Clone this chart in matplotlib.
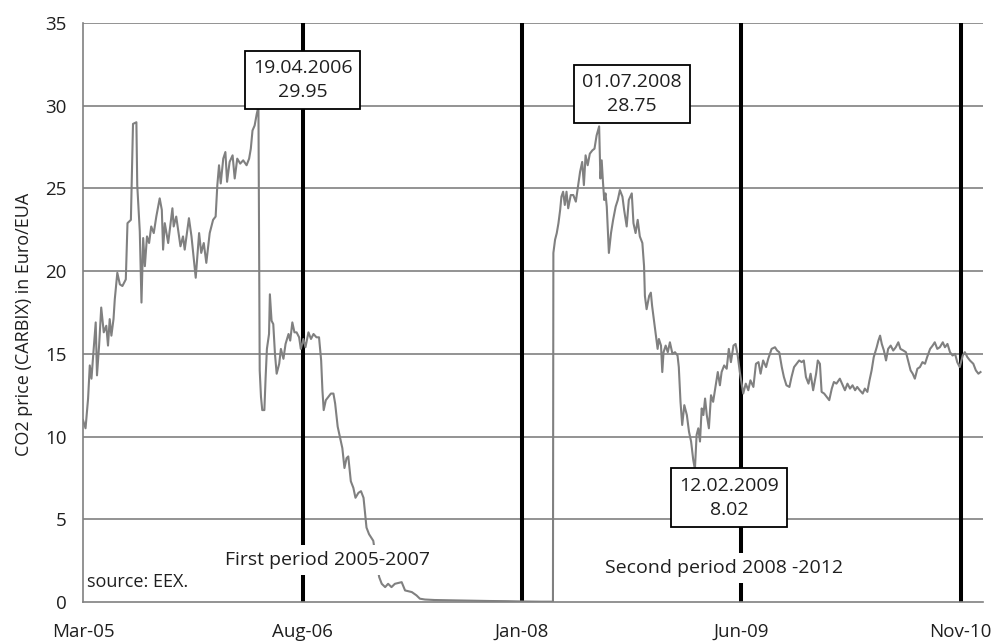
#!/usr/bin/env python3
"""CO2 price (CARBIX) 2005-2010 with trading-period markers."""

import matplotlib
matplotlib.use("Agg")
import matplotlib.pyplot as plt
import matplotlib.dates as mdates
import numpy as np
import pandas as pd

plt.rcParams["font.family"] = ["Open Sans", "DejaVu Sans"]

# ── data ──────────────────────────────────────────────────────────
START = pd.Timestamp("2005-03-01")

# days since START, price in Euro/EUA
phase1_days = [
    0, 6, 12, 16, 20, 24, 30, 33, 38, 43, 49, 55, 59, 63, 67, 72, 75, 81, 87, 93,
    101, 105, 113, 118, 126, 128, 134, 138, 142, 146, 151, 156, 161, 167, 173, 181,
    186, 189, 193, 201, 211, 214, 220, 230, 236, 240, 250, 256, 260, 266, 274, 279,
    285, 291, 299, 307, 313, 317, 321, 325, 331, 336, 340, 346, 353, 358, 364, 371,
    378, 386, 392, 396, 400, 405, 410, 414, 417, 420, 423, 428, 431, 434, 439, 441,
    445, 449, 453, 457, 463, 467, 473, 478, 485, 489, 494, 499, 504, 510, 514, 520,
    525, 532, 538, 544, 551, 557, 562, 565, 568, 573, 579, 585, 591, 595, 601, 606,
    612, 617, 622, 626, 632, 638, 643, 650, 656, 662, 666, 669, 675, 680, 685, 692,
    699, 705, 713, 720, 728, 736, 752, 760, 776, 787, 795, 807, 830, 870, 920, 960,
    1000, 1040, 1080, 1109,
]
phase1_price = [
    11.0, 10.5, 12.3, 14.3, 13.5, 14.9, 16.9, 13.7, 15.5, 17.8, 16.3, 16.7, 15.5, 17.1,
    16.1, 17.1, 18.3, 19.9, 19.2, 19.1, 19.5, 22.9, 23.1, 28.9, 29.0, 25.2, 22.4, 18.1,
    22.0, 20.3, 22.1, 21.7, 22.7, 22.3, 23.3, 24.4, 23.7, 21.3, 22.9, 21.7, 23.8, 22.7,
    23.3, 21.5, 22.1, 21.3, 23.2, 22.1, 21.1, 19.6, 22.3, 21.1, 21.7, 20.5, 22.3, 23.1,
    23.3, 25.2, 26.4, 25.3, 26.8, 27.2, 25.4, 26.6, 27.0, 25.6, 26.8, 26.5, 26.7, 26.4,
    26.8, 27.4, 28.5, 28.8, 29.5, 29.95, 14.0, 12.4, 11.6, 11.6, 13.6, 15.3, 16.2, 18.6,
    17.0, 16.8, 15.0, 13.8, 14.4, 15.3, 14.7, 15.6, 16.2, 15.8, 16.9, 16.3, 16.3, 16.0,
    15.3, 15.9, 15.4, 16.3, 15.9, 16.2, 16.0, 16.0, 14.6, 12.8, 11.6, 12.2, 12.4, 12.6,
    12.6, 12.0, 10.6, 10.0, 9.3, 8.1, 8.7, 8.8, 7.3, 6.9, 6.3, 6.6, 6.7, 6.3, 5.3, 4.5,
    4.1, 3.9, 3.7, 2.5, 1.5, 1.1, 0.9, 1.1, 0.9, 1.1, 1.2, 0.7, 0.6, 0.4, 0.2, 0.15,
    0.12, 0.10, 0.08, 0.06, 0.05, 0.03, 0.02, 0.02,
]

phase2_days = [
    1110, 1114, 1118, 1122, 1126, 1129, 1133, 1137, 1141, 1145, 1151, 1157, 1163, 1169,
    1173, 1178, 1182, 1186, 1191, 1196, 1202, 1207, 1212, 1218, 1221, 1224, 1227, 1230,
    1233, 1236, 1241, 1246, 1251, 1257, 1262, 1267, 1273, 1277, 1283, 1288, 1295, 1299,
    1304, 1309, 1314, 1320, 1324, 1326, 1330, 1336, 1340, 1343, 1348, 1352, 1356, 1359,
    1364, 1367, 1370, 1375, 1380, 1385, 1391, 1397, 1403, 1406, 1410, 1414, 1419, 1425,
    1430, 1435, 1440, 1444, 1448, 1452, 1456, 1460, 1464, 1468, 1472, 1477, 1482, 1487,
    1493, 1498, 1503, 1507, 1513, 1519, 1524, 1529, 1535, 1540, 1545, 1550, 1558, 1564,
    1570, 1575, 1582, 1588, 1594, 1599, 1605, 1612, 1617, 1625, 1633, 1638, 1643, 1649,
    1654, 1660, 1667, 1672, 1678, 1684, 1690, 1696, 1701, 1706, 1712, 1717, 1723, 1730,
    1734, 1739, 1743, 1749, 1755, 1761, 1767, 1772, 1778, 1786, 1793, 1798, 1804, 1810,
    1816, 1822, 1827, 1833, 1840, 1845, 1851, 1856, 1861, 1866, 1873, 1877, 1881, 1885,
    1890, 1895, 1900, 1906, 1912, 1918, 1924, 1929, 1936, 1942, 1947, 1953, 1958, 1963,
    1969, 1975, 1981, 1987, 1992, 1999, 2005, 2010, 2016, 2022, 2029, 2034, 2040, 2046,
    2052, 2058, 2063, 2069, 2076, 2081, 2087, 2093, 2101, 2107, 2113, 2118,
]
phase2_price = [
    21.1, 21.9, 22.3, 22.9, 23.7, 24.5, 24.8, 24.0, 24.8, 23.8, 24.6, 24.6, 24.2, 25.3,
    26.0, 26.6, 25.2, 27.0, 26.4, 27.1, 27.3, 27.4, 28.2, 28.75, 25.6, 26.7, 25.4, 24.3,
    24.7, 23.9, 21.1, 22.3, 23.1, 23.9, 24.3, 24.9, 24.5, 23.7, 22.7, 24.3, 24.7, 22.9,
    22.3, 23.1, 22.1, 21.7, 20.3, 18.5, 17.7, 18.5, 18.7, 17.9, 16.9, 16.1, 15.3, 15.9,
    15.5, 13.9, 15.1, 15.5, 15.1, 15.7, 15.0, 15.1, 14.9, 14.2, 12.1, 10.7, 11.9, 11.3,
    10.3, 9.7, 8.6, 8.02, 10.1, 10.5, 9.7, 11.7, 11.3, 12.3, 11.3, 10.5, 12.5, 12.1,
    13.1, 13.9, 13.1, 13.9, 14.3, 14.1, 15.3, 14.5, 15.5, 15.6, 14.9, 13.9, 12.6, 13.2,
    12.8, 13.4, 13.0, 14.4, 14.5, 13.8, 14.6, 14.2, 14.7, 15.3, 15.4, 15.2, 15.1, 14.2,
    13.6, 13.1, 13.0, 13.6, 14.2, 14.4, 14.6, 14.5, 14.6, 13.6, 13.2, 13.8, 12.8, 13.8,
    14.6, 14.4, 12.7, 12.6, 12.4, 12.2, 12.9, 13.3, 13.2, 13.5, 13.1, 12.8, 13.2, 12.9,
    13.1, 12.8, 13.0, 12.8, 12.6, 12.9, 12.7, 13.4, 14.0, 14.8, 15.4, 15.8, 16.1, 15.6,
    15.2, 14.6, 15.3, 15.5, 15.2, 15.4, 15.7, 15.3, 15.2, 15.1, 14.6, 14.0, 13.8, 13.5,
    14.1, 14.2, 14.5, 14.4, 14.8, 15.3, 15.5, 15.7, 15.3, 15.4, 15.7, 15.4, 15.6, 15.1,
    14.9, 15.0, 14.5, 14.2, 14.9, 15.1, 14.8, 14.6, 14.4, 14.0, 13.8, 13.9,
]

tick_dates = ["2005-03-01", "2006-08-01", "2008-01-01", "2009-06-01", "2010-11-01"]
x_end = "2010-12-24"

extremes = [  # (label date, value, box centre date, box centre y)
    ("19.04.2006", "29.95", "2006-08-01", 31.55),
    ("01.07.2008", "28.75", "2008-09-17", 30.7),
    ("12.02.2009", "8.02", "2009-05-04", 6.3),
]

TXT = "#1f1f1f"
GREY = "#808080"

days = np.array(phase1_days + phase2_days)
price = np.array(phase1_price + phase2_price)
dates = START + pd.to_timedelta(days, unit="D")
ticks = pd.to_datetime(tick_dates)

fig = plt.figure(figsize=(9.94, 6.42), dpi=100)
ax = fig.add_axes([0.0835, 0.0623, 0.9055, 0.9019])

# horizontal grid
for v in range(5, 36, 5):
    ax.axhline(v, color=GREY, lw=1.2, zorder=1)

# period markers at the tick dates
for t in ticks[1:]:
    ax.axvline(t, color="black", lw=2.9, zorder=2)

ax.plot(dates, price, color=GREY, lw=1.5, zorder=3)

ax.set_xlim(START, pd.Timestamp(x_end))
ax.set_ylim(0, 35)
ax.set_yticks(range(0, 36, 5))
ax.set_xticks(ticks)
ax.xaxis.set_major_formatter(mdates.DateFormatter("%b-%y"))
ax.tick_params(length=0, labelsize=13.5, colors=TXT)
ax.tick_params(axis="y", pad=12)
ax.tick_params(axis="x", pad=15)

for s in ["top", "right"]:
    ax.spines[s].set_visible(False)
ax.spines["left"].set_color(GREY)
ax.spines["bottom"].set_color(GREY)
ax.spines["left"].set_linewidth(1.2)
ax.spines["bottom"].set_linewidth(1.2)

ax.set_ylabel("CO2 price (CARBIX) in Euro/EUA", fontsize=13, color=TXT)
ax.yaxis.set_label_coords(-0.056, 0.48)

for d, v, bx, by in extremes:
    ax.text(pd.Timestamp(bx), by, f"{d}\n{v}", ha="center", va="center",
            fontsize=14, color=TXT, linespacing=1.45, zorder=5,
            bbox=dict(boxstyle="square,pad=0.42", fc="white", ec="black", lw=1.3))

ax.text(pd.Timestamp("2006-09-28"), 2.55, "First period 2005-2007", ha="center",
        va="center", fontsize=14, color=TXT, zorder=4,
        bbox=dict(boxstyle="square,pad=0.3", fc="white", ec="none"))
ax.text(pd.Timestamp("2009-04-21"), 2.05, "Second period 2008 -2012", ha="center",
        va="center", fontsize=14, color=TXT, zorder=4,
        bbox=dict(boxstyle="square,pad=0.3", fc="white", ec="none"))
ax.text(0.005, 0.035, "source: EEX.", transform=ax.transAxes, ha="left",
        va="center", fontsize=13, color=TXT, zorder=4)

fig.savefig("out.png", dpi=100)
